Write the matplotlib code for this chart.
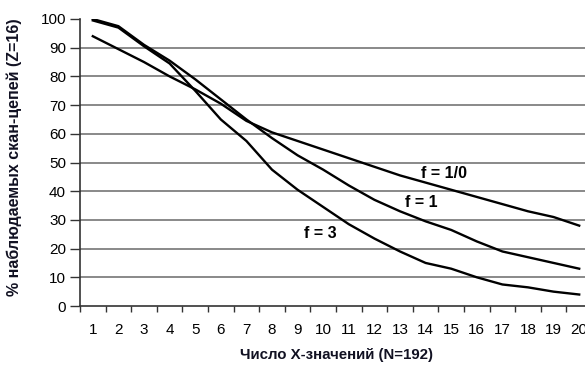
import numpy as np
import matplotlib.pyplot as plt

plt.rcParams['font.family'] = ['Liberation Sans', 'DejaVu Sans']

# Data
categories = list(range(1, 21))
f_10 = [94, 89.5, 85, 80, 75.5, 70.5, 64.5, 60.5, 57.5, 54.5,
        51.5, 48.5, 45.5, 43, 40.5, 38, 35.5, 33, 31, 28]
f_1 = [100, 97.5, 91, 85.5, 79, 72, 65, 58.5, 52.5, 47.5,
       42, 37, 33, 29.5, 26.5, 22.5, 19, 17, 15, 13]
f_3 = [99.5, 97, 90.5, 84.5, 75, 65, 57.5, 47.5, 40.5, 34.5,
       28.5, 23.5, 19, 15, 13, 10, 7.5, 6.5, 5, 4]
y_ticks = list(range(0, 101, 10))

fig = plt.figure(figsize=(5.85, 3.69), dpi=100)
ax = fig.add_axes([80 / 585, 63 / 369, 512 / 585, 287 / 369])

for vals in (f_10, f_1, f_3):
    ax.plot(categories, vals, color='black', lw=1.7, solid_joinstyle='round')

ax.set_xlim(0.5, 20.5)
ax.set_ylim(0, 100)

# gridlines (no line at 100)
for v in y_ticks[1:-1]:
    ax.axhline(v, color='#808080', lw=1.3, zorder=0)

ax.set_yticks(y_ticks)
ax.set_xticks(np.arange(0.5, 21, 1))
ax.set_xticklabels([])
ax.set_xticks(categories, minor=True)
ax.set_xticklabels([str(c) for c in categories], minor=True)
ax.tick_params(axis='x', which='minor', length=0, pad=12, labelsize=11)
ax.tick_params(axis='x', which='major', length=4, width=1, color='#333333')
ax.tick_params(axis='y', length=7, width=1, color='#333333', labelsize=11, pad=3)

for s in ('top', 'right'):
    ax.spines[s].set_visible(False)
for s in ('left', 'bottom'):
    ax.spines[s].set_color('#333333')
    ax.spines[s].set_linewidth(1.2)

ax.set_xlabel('Число X-значений (N=192)', fontsize=10.8, fontweight='bold',
              labelpad=8, color='#111122')
fig.text(14 / 585, 1 - 157 / 369, '% наблюдаемых скан-цепей (Z=16)',
         rotation=90, ha='center', va='center', fontsize=11.5,
         fontweight='bold', color='#111122')

ax.text(14.7, 46.3, 'f = 1/0', ha='center', va='center', fontsize=11.5, fontweight='bold')
ax.text(13.85, 35.9, 'f = 1', ha='center', va='center', fontsize=11.5, fontweight='bold')
ax.text(9.87, 25.4, 'f = 3', ha='center', va='center', fontsize=11.5, fontweight='bold')

fig.savefig('out.png', dpi=100)
